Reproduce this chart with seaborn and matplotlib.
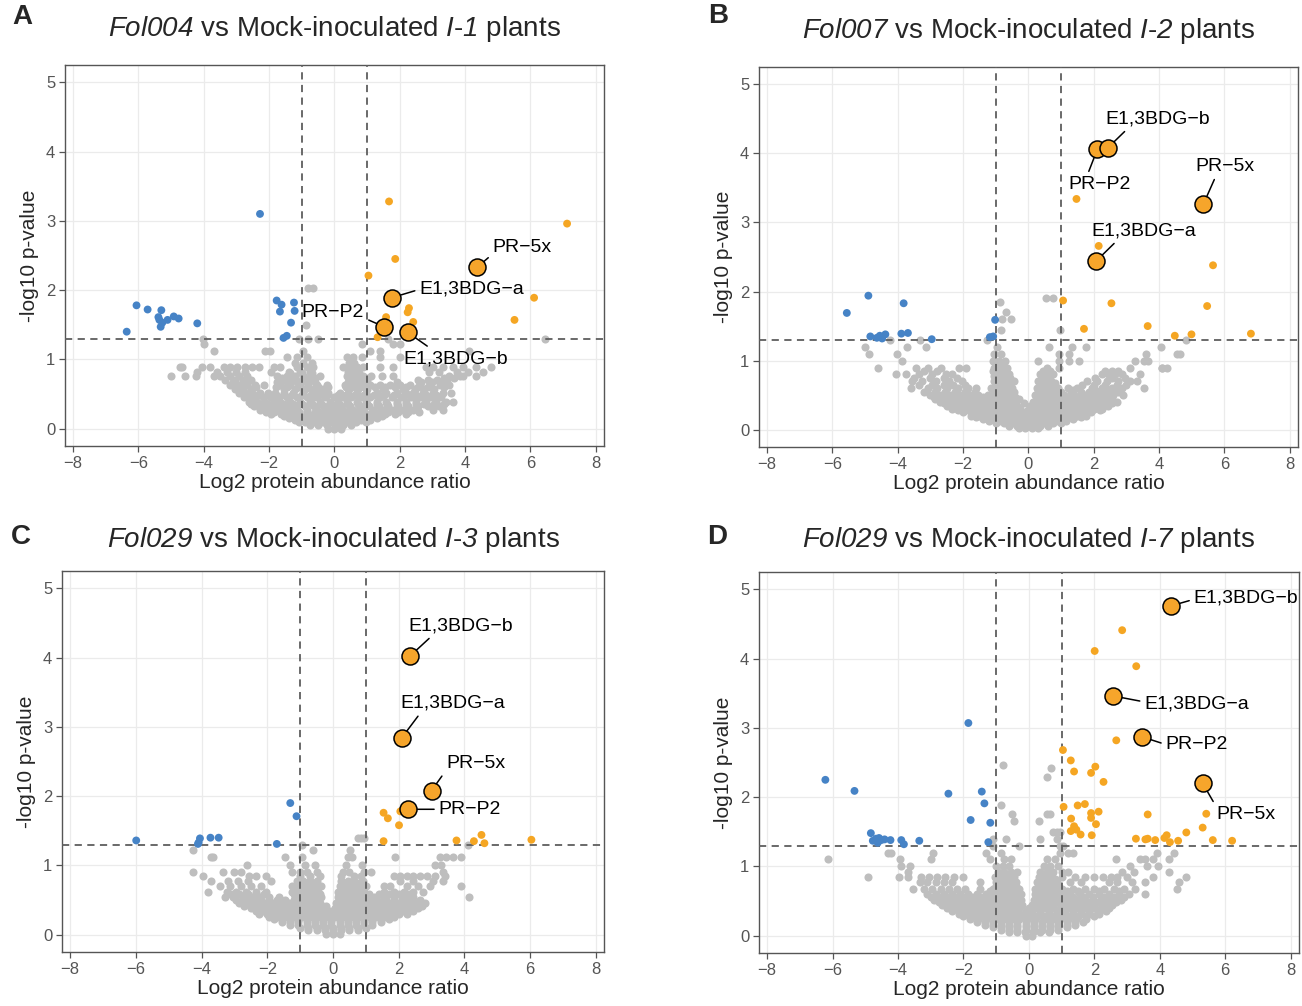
import matplotlib
matplotlib.use("Agg")
import matplotlib.pyplot as plt
import seaborn as sns
import pandas as pd

sns.set_theme(style="white")
plt.rcParams["font.family"] = ["Liberation Sans", "DejaVu Sans"]
# italic strain / line names: route mathtext roman + italic to the italic face
plt.rcParams["mathtext.fontset"] = "custom"
plt.rcParams["mathtext.rm"] = "Liberation Sans:italic"
plt.rcParams["mathtext.it"] = "Liberation Sans:italic"

# ---------------- data (log2 ratio, -log10 p) ----------------
LABELS = ["PR\u22125x", "E1,3BDG\u2212a", "PR\u2212P2", "E1,3BDG\u2212b"]

# A: Fol004 vs I-1
a_down_x = [-6.06, -5.72, -5.30, -5.39, -5.36, -5.27, -5.11, -4.92, -4.77, -5.32, -6.36,
            -4.20, -2.28, -1.77, -1.62, -1.67, -1.24, -1.22, -1.33, -1.56, -1.46]
a_down_y = [1.78, 1.72, 1.71, 1.61, 1.57, 1.53, 1.57, 1.62, 1.59, 1.47, 1.40,
            1.52, 3.10, 1.85, 1.79, 1.69, 1.82, 1.70, 1.53, 1.31, 1.34]
a_up_x = [1.67, 7.12, 1.86, 1.04, 6.11, 2.28, 2.24, 1.58, 2.41, 5.51, 1.32]
a_up_y = [3.28, 2.96, 2.45, 2.21, 1.89, 1.74, 1.68, 1.61, 1.54, 1.57, 1.32]
a_lab_x = [4.37, 1.75, 1.52, 2.24]
a_lab_y = [2.33, 1.89, 1.47, 1.39]
a_grey = [
    (2.03, [-0.80, -0.65]),
    (1.50, [-0.86]),
    (1.30, [-4.03, -1.10, -0.80, -0.49, 1.65, 6.43]),
    (1.22, [-4.00, 0.83, 1.79, 2.00]),
    (1.12, [-3.69, -2.12, -1.97, -0.95, 1.08, 1.39, 4.13]),
    (1.03, [-1.46, -1.15, -0.85, 0.37, 0.57, 0.83, 1.39, 2.00]),
    (0.95, [-1.20, -0.95, -0.70, 0.45, 0.60]),
    (0.89, [-4.73, -4.66, -4.05, -3.80, -3.39, -3.19, -2.98, -2.73, -2.53, -2.32, -1.86, -1.66,
            -1.15, -0.85, -0.65, 0.27, 0.47, 0.68, 0.88, 1.39, 1.79, 2.81, 3.01, 3.32, 3.62,
            3.93, 4.33, 4.79]),
    (0.82, [-4.20, -3.60, -3.30, -3.00, -2.75, -1.95, -1.40, -1.05, -0.75, 0.40, 0.60, 2.90,
            3.20, 3.75, 4.10, 4.55]),
    (0.80, [-1.35, -1.00, -0.70, 0.50, 0.75]),
    (0.76, [-5.00, -4.59, -4.25, -3.69, -3.49, -3.19, -2.93, -2.68, -1.76, -1.46, -1.21, -0.95,
            -0.70, -0.44, 0.37, 0.63, 0.88, 1.13, 1.44, 1.79, 3.52, 3.83, 3.93, 4.33]),
    (0.73, [-1.60, -1.25, -0.90, -0.60, 0.45, 0.70, 0.95, 3.35, 3.65]),
    (0.70, [-3.35, -3.05, -2.80, -2.55, -1.60, -1.30, -1.00, -0.75, 0.50, 0.75, 1.00, 2.55,
            2.85, 3.15, 3.45]),
    (0.67, [-3.10, -2.70, -1.75, -1.45, -1.15, -0.85, -0.60, 0.40, 0.65, 0.95, 1.90, 2.65,
            3.00, 3.30]),
    (0.63, [-3.19, -2.93, -2.68, -2.42, -2.17, -1.66, -1.36, -1.05, -0.80, -0.54, -0.24, 0.32,
            0.57, 0.83, 1.08, 1.39, 1.69, 2.00, 2.30, 2.61, 2.91, 3.22, 3.52]),
    (0.60, [-2.90, -2.40, -1.80, -1.45, -1.10, -0.80, -0.50, -0.20, 0.35, 0.60, 0.90, 1.25,
            1.55, 1.85, 2.20, 2.55, 2.85, 3.35]),
    (0.57, [-3.05, -2.80, -2.55, -1.55, -1.20, -0.90, -0.62, -0.35, 0.45, 0.72, 1.00, 1.50,
            2.10, 2.45, 2.75, 3.05]),
    (0.51, [-2.93, -2.73, -2.53, -2.27, -2.02, -1.81, -1.56, -1.26, -0.95, -0.70, -0.44, -0.19,
            0.17, 0.42, 0.68, 0.98, 1.29, 1.59, 1.90, 2.20, 2.40, 2.71, 3.01, 3.32, 3.57]),
    (0.48, [-2.65, -2.35, -2.05, -1.80, -1.55, -1.30, -1.00, -0.72, -0.48, -0.22, 0.10, 0.35,
            0.62, 0.90, 1.22, 1.52, 1.82, 2.15, 2.50, 2.80, 3.10]),
    (0.45, [-2.78, -2.50, -2.20, -1.95, -1.70, -1.45, -1.15, -0.85, -0.60, -0.30, 0.00, 0.25,
            0.52, 0.80, 1.10, 1.40, 1.75, 2.05, 2.35, 2.65, 2.95, 3.25]),
    (0.39, [-2.63, -2.37, -2.12, -1.86, -1.66, -1.36, -1.05, -0.75, -0.44, -0.14, 0.12, 0.37,
            0.68, 0.98, 1.29, 1.59, 1.90, 2.20, 2.50, 2.81, 3.11, 3.42, 3.62]),
    (0.36, [-2.55, -2.28, -2.02, -1.78, -1.55, -1.28, -1.00, -0.70, -0.40, -0.10, 0.15, 0.42,
            0.72, 1.00, 1.30, 1.60, 1.90, 2.20, 2.50, 2.75, 3.05, 3.35]),
    (0.33, [-2.45, -2.20, -1.95, -1.70, -1.45, -1.15, -0.90, -0.62, -0.33, -0.05, 0.20, 0.48,
            0.78, 1.05, 1.35, 1.65, 1.95, 2.25, 2.55, 2.85, 3.20]),
    (0.27, [-2.27, -2.02, -1.76, -1.51, -1.26, -0.85, -0.54, -0.24, 0.02, 0.27, 0.57, 0.88,
            1.18, 1.49, 1.79, 2.10, 2.40, 3.01, 3.32]),
    (0.24, [-2.10, -1.85, -1.60, -1.35, -1.10, -0.85, -0.60, -0.35, -0.10, 0.15, 0.40, 0.65,
            0.90, 1.15, 1.40, 1.65, 1.95, 2.25, 2.60]),
    (0.21, [-1.95, -1.65, -1.40, -1.10, -0.80, -0.50, -0.30, -0.05, 0.20, 0.45, 0.70, 0.95,
            1.25, 1.55, 1.85, 2.20]),
    (0.18, [-1.55, -1.30, -1.05, -0.80, -0.55, -0.30, -0.05, 0.20, 0.45, 0.70, 0.95, 1.20, 1.45]),
    (0.15, [-1.40, -1.20, -1.00, -0.70, -0.44, -0.19, 0.07, 0.32, 0.57, 0.83, 1.08, 1.30]),
    (0.12, [-1.20, -0.80, -0.50, -0.25, 0.00, 0.25, 0.50, 0.80, 1.10]),
    (0.10, [-1.10, -0.90, -0.60, -0.35, -0.10, 0.15, 0.40, 0.65, 0.95]),
    (0.05, [-0.75, -0.50, -0.24, 0.02, 0.27, 0.52]),
    (0.00, [-0.20, 0.00, 0.20]),
]

# B: Fol007 vs I-2
b_down_x = [-4.90, -5.56, -3.82, -4.84, -4.64, -4.55, -4.38, -4.48, -3.89, -3.69, -2.96, -1.02, -1.08, -1.18]
b_down_y = [1.94, 1.69, 1.83, 1.35, 1.33, 1.36, 1.38, 1.32, 1.39, 1.40, 1.31, 1.59, 1.35, 1.34]
b_up_x = [1.47, 2.15, 5.65, 1.06, 2.54, 5.47, 1.70, 3.65, 4.48, 4.99, 6.81]
b_up_y = [3.34, 2.66, 2.38, 1.87, 1.83, 1.79, 1.46, 1.50, 1.36, 1.38, 1.39]
b_lab_x = [5.35, 2.07, 2.11, 2.43]
b_lab_y = [3.26, 2.44, 4.06, 4.08]
b_grey = [
    (1.90, [0.55, 0.75]),
    (1.85, [-0.88]),
    (1.70, [-0.70]),
    (1.60, [-0.80, -0.52]),
    (1.45, [-0.85, 0.96]),
    (1.30, [-4.25, -3.33, -1.26, 4.83]),
    (1.20, [-4.99, -3.71, -3.15, -0.95, 0.63, 1.34, 1.75, 4.06]),
    (1.10, [-4.87, -4.01, -1.05, -0.85, 0.93, 1.25, 3.59, 4.55, 4.63]),
    (1.00, [-3.86, -1.10, -0.90, -0.72, 0.30, 0.93, 1.25, 1.55, 3.25, 3.53, 3.65]),
    (0.95, [-1.00, -0.80]),
    (0.90, [-4.61, -3.45, -3.09, -2.69, -2.12, -1.92, -1.05, -0.85, -0.65, 0.58, 0.93, 3.12,
            4.09, 4.10, 4.25]),
    (0.85, [-3.20, -2.80, -1.10, -0.90, -0.70, 0.45, 0.65, 2.35, 2.55, 2.75]),
    (0.80, [-4.06, -3.76, -3.35, -2.94, -2.53, -2.33, -1.00, -0.80, -0.60, 0.35, 0.55, 0.75,
            2.26, 2.45, 2.65, 2.87, 3.40]),
    (0.78, [-1.05, -0.85, -0.65, 0.45, 0.65]),
    (0.75, [-3.50, -3.00, -2.60, -2.20, -0.95, -0.75, -0.55, 0.40, 0.60, 2.05, 2.55, 2.95]),
    (0.70, [-3.56, -3.25, -2.84, -2.43, -2.02, -1.05, -0.85, -0.65, -0.45, 0.30, 0.50, 0.70,
            1.80, 2.10, 2.40, 2.75, 3.10, 3.33]),
    (0.68, [-0.95, -0.75, -0.55, 0.40, 0.60, 0.80]),
    (0.65, [-3.35, -2.95, -2.60, -2.30, -1.95, -1.00, -0.80, -0.60, 0.35, 0.55, 0.75, 1.65,
            2.00, 2.35, 2.70, 3.00]),
    (0.60, [-3.58, -3.09, -2.79, -2.48, -2.15, -1.85, -1.60, -1.15, -0.90, -0.70, -0.50, 0.25,
            0.45, 0.65, 0.90, 1.20, 1.50, 1.95, 2.25, 2.55, 2.85, 3.53]),
    (0.58, [-1.05, -0.80, -0.60, 0.38, 0.58, 0.78, 1.35, 2.05, 2.40, 2.70]),
    (0.55, [-3.20, -2.85, -2.55, -2.25, -1.95, -1.65, -1.05, -0.85, -0.65, -0.45, 0.30, 0.50,
            0.70, 1.00, 1.30, 1.60, 1.85, 2.15, 2.45, 2.75]),
    (0.50, [-3.00, -2.70, -2.40, -2.10, -1.80, -1.55, -1.25, -0.95, -0.75, -0.55, 0.20, 0.40,
            0.60, 0.80, 1.10, 1.40, 1.70, 2.00, 2.30, 2.60, 2.90]),
    (0.48, [-2.90, -2.55, -2.25, -1.95, -1.65, -1.40, -1.10, -0.85, -0.65, -0.40, 0.30, 0.52,
            0.75, 1.00, 1.30, 1.55, 1.85, 2.15, 2.45]),
    (0.45, [-2.85, -2.55, -2.30, -2.05, -1.80, -1.55, -1.30, -1.05, -0.80, -0.55, -0.30, 0.25,
            0.45, 0.65, 0.90, 1.20, 1.45, 1.70, 1.95, 2.25, 2.55]),
    (0.40, [-2.70, -2.45, -2.20, -1.95, -1.70, -1.45, -1.20, -0.95, -0.70, -0.45, 0.15, 0.35,
            0.55, 0.80, 1.05, 1.30, 1.55, 1.80, 2.10, 2.40, 2.70]),
    (0.38, [-2.60, -2.30, -2.05, -1.80, -1.55, -1.30, -1.10, -0.90, -0.65, -0.40, -0.15, 0.25,
            0.45, 0.70, 0.95, 1.20, 1.45, 1.70, 1.95, 2.25, 2.55]),
    (0.35, [-2.50, -2.25, -2.00, -1.75, -1.50, -1.25, -1.05, -0.85, -0.60, -0.35, 0.05, 0.20,
            0.40, 0.65, 0.90, 1.15, 1.40, 1.65, 1.90, 2.15, 2.45]),
    (0.30, [-2.33, -2.07, -1.82, -1.61, -1.41, -1.21, -1.00, -0.75, -0.50, -0.25, 0.10, 0.30,
            0.50, 0.75, 1.00, 1.25, 1.50, 1.75, 2.00, 2.25]),
    (0.28, [-2.15, -1.90, -1.65, -1.45, -1.25, -1.00, -0.75, -0.50, -0.25, 0.00, 0.20, 0.45,
            0.70, 0.95, 1.20, 1.45, 1.70, 1.95, 2.20]),
    (0.25, [-2.00, -1.75, -1.50, -1.30, -1.10, -0.85, -0.60, -0.35, -0.10, 0.15, 0.40, 0.65,
            0.90, 1.15, 1.40, 1.65, 1.90]),
    (0.20, [-1.75, -1.50, -1.25, -1.00, -0.75, -0.50, -0.25, 0.00, 0.25, 0.50, 0.75, 1.00,
            1.25, 1.50, 1.75]),
    (0.18, [-1.60, -1.35, -1.10, -0.85, -0.60, -0.35, -0.10, 0.15, 0.40, 0.65, 0.90, 1.15,
            1.40, 1.60]),
    (0.15, [-1.40, -1.15, -0.90, -0.65, -0.40, -0.15, 0.10, 0.35, 0.60, 0.85, 1.10, 1.35]),
    (0.12, [-1.20, -0.90, -0.60, -0.35, -0.10, 0.15, 0.40, 0.65, 0.90, 1.15]),
    (0.10, [-1.00, -0.75, -0.50, -0.25, 0.00, 0.25, 0.50, 0.75, 1.00]),
    (0.06, [-0.60, -0.35, -0.12, 0.12, 0.35, 0.60]),
    (0.02, [-0.30, -0.10, 0.10, 0.30]),
]

# C: Fol029 vs I-3
c_down_x = [-5.99, -4.05, -4.09, -4.11, -3.73, -3.48, -1.71, -1.30, -1.11]
c_down_y = [1.36, 1.39, 1.33, 1.31, 1.40, 1.40, 1.31, 1.90, 1.71]
c_up_x = [1.54, 1.67, 2.05, 2.01, 1.54, 3.76, 4.29, 4.52, 4.61, 6.04]
c_up_y = [1.76, 1.68, 1.78, 1.58, 1.35, 1.36, 1.35, 1.44, 1.32, 1.37]
c_lab_x = [3.00, 2.09, 2.28, 2.34]
c_lab_y = [2.08, 2.84, 1.81, 4.02]
c_grey = [
    (1.40, [0.75, 0.85, 0.95]),
    (1.30, [-0.95, 4.10]),
    (1.22, [-4.25, -0.60, 0.53]),
    (1.12, [-3.70, -3.64, -1.45, -0.93, 0.45, 0.58, 1.90, 3.25, 3.45, 3.65, 3.90]),
    (1.00, [-2.62, -1.30, -0.85, -0.55, 0.40, 0.88, 3.10, 3.30]),
    (0.90, [-4.25, -3.35, -3.00, -2.80, -1.25, -1.00, -0.80, -0.48, 0.30, 0.50, 0.95, 1.15, 3.35]),
    (0.85, [-3.95, -2.55, -2.35, -2.05, -1.00, -0.70, -0.40, 0.25, 0.65, 0.85, 1.85, 2.05,
            2.25, 2.45, 2.65, 2.85, 3.10, 3.40]),
    (0.78, [-3.70, -3.20, -2.90, -2.60, -1.90, -1.10, -0.90, -0.70, -0.50, 0.25, 0.45, 0.65,
            0.90, 2.05, 2.45, 3.05, 3.35]),
    (0.74, [-1.05, -0.85, -0.65, 0.35, 0.55, 0.75]),
    (0.70, [-3.44, -3.15, -2.80, -2.50, -2.20, -1.25, -1.00, -0.80, -0.55, -0.35, 0.20, 0.40,
            0.60, 0.80, 1.00, 1.55, 1.75, 2.25, 2.60, 2.95, 3.90]),
    (0.66, [-1.15, -0.95, -0.75, -0.55, 0.25, 0.45, 0.65, 0.85]),
    (0.62, [-3.81, -3.23, -2.95, -2.65, -2.35, -2.05, -1.25, -1.05, -0.85, -0.65, -0.45, 0.15,
            0.35, 0.55, 0.75, 0.95, 1.55, 1.85, 2.15, 2.45, 2.75]),
    (0.58, [-3.10, -2.85, -2.60, -2.35, -2.10, -1.20, -1.00, -0.80, -0.60, -0.40, 0.20, 0.40,
            0.60, 0.85, 1.10, 1.40, 1.70, 2.00, 2.30]),
    (0.54, [-3.28, -3.03, -2.75, -2.50, -2.25, -1.95, -1.65, -1.15, -0.95, -0.75, -0.55, -0.35,
            0.15, 0.35, 0.55, 0.75, 1.00, 1.25, 1.55, 1.85, 2.15, 2.45, 4.14]),
    (0.50, [-2.95, -2.70, -2.45, -2.20, -1.95, -1.70, -1.45, -1.20, -0.95, -0.70, -0.50, 0.20,
            0.40, 0.60, 0.85, 1.10, 1.35, 1.60, 1.85, 2.10, 2.35, 2.65]),
    (0.46, [-2.85, -2.60, -2.35, -2.10, -1.85, -1.60, -1.35, -1.10, -0.85, -0.60, -0.40, 0.10,
            0.30, 0.50, 0.70, 0.95, 1.20, 1.45, 1.70, 1.95, 2.20, 2.50, 2.80]),
    (0.42, [-2.70, -2.45, -2.20, -1.95, -1.70, -1.45, -1.20, -0.95, -0.70, -0.45, -0.20, 0.15,
            0.40, 0.65, 0.90, 1.15, 1.40, 1.65, 1.90, 2.15, 2.40, 2.70]),
    (0.38, [-2.50, -2.25, -2.00, -1.75, -1.50, -1.25, -1.00, -0.75, -0.50, -0.25, 0.05, 0.30,
            0.55, 0.80, 1.05, 1.30, 1.55, 1.80, 2.05, 2.30, 2.60]),
    (0.34, [-2.35, -2.10, -1.85, -1.60, -1.35, -1.10, -0.85, -0.60, -0.35, -0.10, 0.15, 0.40,
            0.65, 0.90, 1.15, 1.40, 1.65, 1.90, 2.15, 2.45]),
    (0.30, [-2.25, -2.00, -1.75, -1.50, -1.25, -1.00, -0.75, -0.50, -0.25, 0.00, 0.25, 0.50,
            0.75, 1.00, 1.25, 1.50, 1.75, 2.00, 2.25]),
    (0.26, [-1.95, -1.70, -1.45, -1.20, -0.95, -0.70, -0.45, -0.20, 0.05, 0.30, 0.55, 0.80,
            1.05, 1.30, 1.55, 1.85]),
    (0.22, [-1.80, -1.55, -1.30, -1.05, -0.80, -0.55, -0.30, -0.05, 0.20, 0.45, 0.70, 0.95,
            1.20, 1.45, 1.70]),
    (0.18, [-1.55, -1.30, -1.05, -0.80, -0.55, -0.30, -0.05, 0.20, 0.45, 0.70, 0.95, 1.20, 1.45]),
    (0.14, [-1.30, -1.05, -0.80, -0.55, -0.30, -0.05, 0.20, 0.45, 0.70, 0.95, 1.20]),
    (0.10, [-1.00, -0.75, -0.50, -0.25, 0.00, 0.25, 0.50, 0.75, 1.00]),
    (0.07, [-0.75, -0.50, -0.25, 0.00, 0.25, 0.50, 0.75]),
    (0.01, [-0.20, 0.00, 0.20]),
]

# D: Fol029 vs I-7
d_down_x = [-6.22, -5.33, -2.46, -1.85, -1.44, -1.36, -1.78, -1.18, -1.24, -4.83, -4.77, -4.67,
            -4.58, -4.51, -4.62, -4.41, -4.23, -3.90, -3.82, -3.35]
d_down_y = [2.25, 2.09, 2.05, 3.07, 2.08, 1.91, 1.67, 1.63, 1.35, 1.48, 1.37, 1.40,
            1.41, 1.38, 1.34, 1.39, 1.38, 1.38, 1.32, 1.37]
d_up_x = [2.85, 2.01, 3.28, 2.67, 1.04, 1.28, 2.03, 1.38, 1.90, 2.28, 1.06, 1.49, 1.71, 1.29,
          1.90, 1.90, 2.13, 2.05, 1.38, 1.28, 1.45, 1.58, 1.92, 3.63, 5.42, 5.31, 4.81, 3.27,
          3.56, 3.63, 3.86, 4.14, 4.21, 4.31, 4.56, 5.62, 6.21]
d_up_y = [4.41, 4.11, 3.89, 2.82, 2.68, 2.53, 2.44, 2.37, 2.35, 2.22, 1.86, 1.88, 1.90, 1.69,
          1.77, 1.70, 1.79, 1.61, 1.58, 1.51, 1.53, 1.46, 1.45, 1.75, 1.76, 1.56, 1.49, 1.40,
          1.39, 1.40, 1.38, 1.41, 1.45, 1.35, 1.37, 1.38, 1.37]
d_lab_x = [5.31, 2.58, 3.46, 4.33]
d_lab_y = [2.20, 3.46, 2.87, 4.76]
d_grey = [
    (2.47, [-0.79]),
    (2.42, [0.68]),
    (2.29, [0.55]),
    (1.89, [-0.86]),
    (1.75, [-0.51, 0.55, 0.65]),
    (1.65, [-0.46, 0.30]),
    (1.50, [0.75, 0.85, 0.95]),
    (1.40, [-1.09, -0.70, 0.34, 0.85]),
    (1.30, [-1.10, -0.30, 0.95, 1.05]),
    (1.20, [-4.30, -4.20, -2.93, -1.30, -0.85, 0.95, 1.20, 1.35, 3.90, 4.42]),
    (1.10, [-6.15, -3.95, -2.98, -1.20, -0.75, -0.55, 0.55, 0.80, 2.67, 3.40, 3.55, 3.79, 4.27]),
    (1.00, [-3.92, -3.64, -1.00, -0.80, -0.60, 0.45, 0.65, 0.90, 3.10, 3.60, 3.95]),
    (0.92, [-3.70, -0.95, -0.75, -0.55, -0.35, 0.35, 0.55, 0.75, 1.00, 1.20, 2.85, 3.20, 4.27]),
    (0.85, [-4.92, -3.96, -3.70, -3.30, -3.05, -2.80, -2.55, -2.30, -2.00, -1.05, -0.85, -0.65,
            -0.45, 0.30, 0.50, 0.70, 1.00, 1.40, 1.71, 2.00, 2.25, 2.50, 2.68, 3.00, 3.80, 4.80]),
    (0.82, [-0.95, -0.75, -0.55, 0.40, 0.60, 0.80]),
    (0.77, [-3.34, -3.10, -2.85, -2.60, -2.35, -1.50, -1.00, -0.80, -0.60, -0.40, 0.25, 0.45,
            0.65, 0.85, 1.25, 1.60, 2.45, 2.70, 3.15, 3.55, 4.60]),
    (0.72, [-1.00, -0.80, -0.60, -0.40, 0.30, 0.50, 0.70, 0.90]),
    (0.68, [-3.55, -3.20, -2.95, -2.70, -2.45, -2.20, -1.95, -1.50, -1.10, -0.90, -0.70, -0.50,
            -0.30, 0.20, 0.40, 0.60, 0.80, 1.00, 1.36, 1.70, 2.00, 2.30, 2.60, 2.90, 3.25, 4.53]),
    (0.64, [-1.20, -0.95, -0.75, -0.55, -0.35, 0.30, 0.50, 0.70, 0.90, 1.15, 1.50, 2.15, 2.75]),
    (0.60, [-3.10, -2.85, -2.60, -2.35, -2.10, -1.85, -1.60, -1.30, -1.05, -0.85, -0.65, -0.45,
            -0.25, 0.20, 0.40, 0.60, 0.80, 1.00, 1.25, 1.55, 1.85, 2.15, 2.45, 2.75, 3.05, 3.55]),
    (0.56, [-3.00, -2.75, -2.50, -2.25, -2.00, -1.75, -1.45, -1.20, -0.95, -0.75, -0.55, -0.35,
            0.25, 0.45, 0.65, 0.85, 1.10, 1.35, 1.65, 1.95, 2.30, 2.60, 2.90]),
    (0.52, [-2.90, -2.65, -2.40, -2.15, -1.90, -1.65, -1.40, -1.15, -0.90, -0.65, -0.45, -0.25,
            0.15, 0.35, 0.55, 0.75, 0.95, 1.20, 1.45, 1.70, 1.95, 2.20, 2.50, 2.80]),
    (0.48, [-2.75, -2.50, -2.25, -2.00, -1.75, -1.50, -1.25, -1.00, -0.75, -0.55, -0.35, 0.20,
            0.40, 0.60, 0.85, 1.10, 1.35, 1.60, 1.85, 2.10, 2.40, 2.65]),
    (0.44, [-2.65, -2.40, -2.15, -1.90, -1.65, -1.40, -1.15, -0.90, -0.65, -0.40, -0.20, 0.10,
            0.30, 0.50, 0.75, 1.00, 1.25, 1.50, 1.75, 2.00, 2.25, 2.55]),
    (0.40, [-2.50, -2.25, -2.00, -1.75, -1.50, -1.25, -1.00, -0.75, -0.50, -0.30, 0.00, 0.20,
            0.45, 0.70, 0.95, 1.20, 1.45, 1.70, 1.95, 2.20, 2.45]),
    (0.36, [-2.35, -2.10, -1.85, -1.60, -1.35, -1.10, -0.85, -0.60, -0.35, -0.10, 0.10, 0.35,
            0.60, 0.85, 1.10, 1.35, 1.60, 1.85, 2.10, 2.35]),
    (0.32, [-2.15, -1.90, -1.65, -1.40, -1.15, -0.90, -0.65, -0.40, -0.15, 0.10, 0.35, 0.60,
            0.85, 1.10, 1.35, 1.60, 1.85, 2.15]),
    (0.28, [-2.00, -1.75, -1.50, -1.25, -1.00, -0.75, -0.50, -0.25, 0.00, 0.25, 0.50, 0.75,
            1.00, 1.25, 1.50, 1.75, 2.00]),
    (0.24, [-1.80, -1.55, -1.30, -1.05, -0.80, -0.55, -0.30, -0.05, 0.20, 0.45, 0.70, 0.95,
            1.20, 1.45, 1.75]),
    (0.20, [-1.60, -1.35, -1.10, -0.85, -0.60, -0.35, -0.10, 0.15, 0.40, 0.65, 0.90, 1.15,
            1.40, 1.65]),
    (0.16, [-1.35, -1.10, -0.85, -0.60, -0.35, -0.10, 0.15, 0.40, 0.65, 0.90, 1.15, 1.40]),
    (0.12, [-1.10, -0.85, -0.60, -0.35, -0.10, 0.15, 0.40, 0.65, 0.90, 1.15]),
    (0.08, [-0.85, -0.60, -0.35, -0.10, 0.15, 0.40, 0.65, 0.90]),
    (0.05, [-0.60, -0.35, -0.12, 0.12, 0.35, 0.60]),
    (0.00, [-0.10, 0.10]),
]

# ---------------- layout / styling ----------------
GREY = "#BEBEBE"
BLUE = "#4683C6"
ORANGE = "#F5A623"
W, H = 1302, 1006

panels = [
    dict(letter="A", letter_xy=(22, 17), strain="Fol004", line="1",
         rect=[0.0499, 0.5567, 0.4140, 0.3787], pad=21,
         down=(a_down_x, a_down_y), up=(a_up_x, a_up_y), lab=(a_lab_x, a_lab_y), grey=a_grey,
         # label order: PR-5x, E1,3BDG-a, PR-P2, E1,3BDG-b  -> (text x, text y, ha, relpos)
         text=[(4.84, 2.62, "left", (0.0, 0.1)), (2.60, 2.01, "left", (0.0, 0.5)),
               (0.91, 1.67, "right", (1.0, 0.2)), (2.12, 1.01, "left", (0.28, 1.0))]),
    dict(letter="B", letter_xy=(718, 16), strain="Fol007", line="2",
         rect=[0.5829, 0.5557, 0.4140, 0.3777], pad=21,
         down=(b_down_x, b_down_y), up=(b_up_x, b_up_y), lab=(b_lab_x, b_lab_y), grey=b_grey,
         text=[(5.10, 3.81, "left", (0.36, 0.0)), (1.92, 2.88, "left", (0.26, 0.0)),
               (1.22, 3.55, "left", (0.30, 1.0)), (2.34, 4.50, "left", (0.23, 0.0))]),
    dict(letter="C", letter_xy=(21, 537), strain="Fol029", line="3",
         rect=[0.0476, 0.0537, 0.4163, 0.3787], pad=17,
         down=(c_down_x, c_down_y), up=(c_up_x, c_up_y), lab=(c_lab_x, c_lab_y), grey=c_grey,
         text=[(3.44, 2.47, "left", (0.0, 0.1)), (2.05, 3.34, "left", (0.20, 0.0)),
               (3.22, 1.81, "left", (0.0, 0.5)), (2.30, 4.46, "left", (0.24, 0.0))]),
    dict(letter="D", letter_xy=(717, 537), strain="Fol029", line="7",
         rect=[0.5829, 0.0527, 0.4147, 0.3787], pad=18,
         down=(d_down_x, d_down_y), up=(d_up_x, d_up_y), lab=(d_lab_x, d_lab_y), grey=d_grey,
         text=[(5.74, 1.75, "left", (0.0, 0.9)), (3.53, 3.35, "left", (0.0, 0.6)),
               (4.18, 2.76, "left", (0.0, 0.5)), (5.04, 4.88, "left", (0.0, 0.4))]),
]

fig = plt.figure(figsize=(W / 100, H / 100), dpi=100)

for p in panels:
    ax = fig.add_axes(p["rect"])
    rows = [(x, y, "ns") for y, xs in p["grey"] for x in xs]
    rows += [(x, y, "down") for x, y in zip(*p["down"])]
    rows += [(x, y, "up") for x, y in zip(*p["up"])]
    df = pd.DataFrame(rows, columns=["log2fc", "nlogp", "group"])

    sns.scatterplot(data=df[df.group == "ns"], x="log2fc", y="nlogp", color=GREY,
                    s=34, linewidth=0, ax=ax, zorder=2)
    ax.axhline(1.30103, color="#5E5E5E", lw=1.3, ls=(0, (4, 3)), zorder=3)
    for xv in (-1, 1):
        ax.axvline(xv, color="#5E5E5E", lw=1.3, ls=(0, (4, 3)), zorder=3)
    sns.scatterplot(data=df[df.group != "ns"], x="log2fc", y="nlogp", hue="group",
                    palette={"down": BLUE, "up": ORANGE}, s=32, linewidth=0,
                    legend=False, ax=ax, zorder=4)

    lab = pd.DataFrame({"log2fc": p["lab"][0], "nlogp": p["lab"][1], "name": LABELS})
    for (tx, ty, ha, rel), r in zip(p["text"], lab.itertuples()):
        ax.annotate(r.name, xy=(r.log2fc, r.nlogp), xytext=(tx, ty), ha=ha, va="center",
                    fontsize=14, color="black", zorder=6,
                    arrowprops=dict(arrowstyle="-", color="black", lw=1.1,
                                    shrinkA=1, shrinkB=6, relpos=rel))
    sns.scatterplot(data=lab, x="log2fc", y="nlogp", color="#F6A52B", edgecolor="black",
                    s=150, linewidth=1.1, ax=ax, zorder=7)

    ax.set_xlim(-8.25, 8.25)
    ax.set_ylim(-0.25, 5.25)
    ax.set_xticks([-8, -6, -4, -2, 0, 2, 4, 6, 8])
    ax.set_yticks([0, 1, 2, 3, 4, 5])
    ax.grid(True, color="#EBEBEB", lw=0.9)
    ax.set_axisbelow(True)
    for s in ax.spines.values():
        s.set_color("#555555")
        s.set_linewidth(1.0)
    ax.tick_params(axis="both", length=4, width=0.9, color="#555555",
                   labelsize=12, labelcolor="#555555", pad=3, bottom=True, left=True)
    ax.set_xlabel("Log2 protein abundance ratio", fontsize=15, labelpad=2)
    ax.set_ylabel("-log10 p-value", fontsize=15, labelpad=5)
    ax.set_title(r"$\mathrm{%s}$ vs Mock-inoculated $\mathrm{I}$-$\mathrm{%s}$ plants"
                 % (p["strain"], p["line"]), fontsize=20, pad=p["pad"])

    lx, ly = p["letter_xy"]
    fig.text(lx / W, 1 - ly / H, p["letter"], fontsize=20, fontweight="bold",
             ha="center", va="center")

fig.savefig("out.png", dpi=100)
